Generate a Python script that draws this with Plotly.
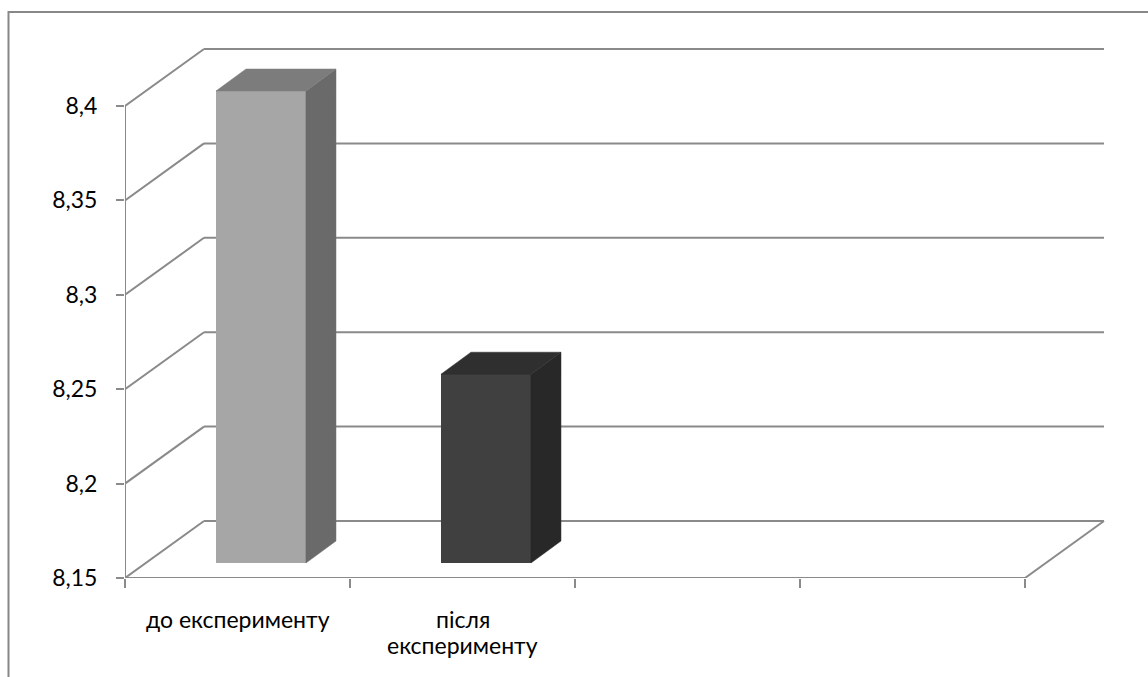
import plotly.graph_objects as go

# ---- data ----
categories = ["до експерименту", "після експерименту"]
category_lines = [["до експерименту"], ["після", "експерименту"]]
values = [8.40, 8.25]
y_ticks = [8.15, 8.20, 8.25, 8.30, 8.35, 8.40]
y_tick_labels = ["8,15", "8,2", "8,25", "8,3", "8,35", "8,4"]
n_slots = 4  # category slots on the axis (two are empty)

# ---- styling / geometry ----
front_colors = ["#A6A6A6", "#404040"]
top_colors = ["#7C7C7C", "#2F2F2F"]
side_colors = ["#6A6A6A", "#282828"]
grid_color = "#8A8A8A"
FONT = "Lato, 'Noto Sans', sans-serif"

W, H = 1148, 677
L, R, T, B = 125, 1105, 47, 578
PX_CAT = 225.0
PX_UNIT = 1888.0
Y0 = y_ticks[0]
x_range = [-0.5, -0.5 + (R - L) / PX_CAT]
y_range = [Y0, Y0 + (B - T) / PX_UNIT]
DXu = 79 / PX_CAT     # depth vector in data units
DYu = 57 / PX_UNIT
F0x, F1x = 0.297, 0.677  # bar depth span (fraction of floor depth), horizontal
F0y, F1y = 0.263, 0.649  # bar depth span, vertical
BAR_W = 0.4

fig = go.Figure()

# walls / floor gridlines (below traces)
shapes = []
line = dict(color=grid_color, width=2)
x_left = -0.5
x_right = -0.5 + n_slots
for t in y_ticks:
    shapes.append(dict(type="line", xref="x", yref="y", layer="below",
                       x0=x_left, y0=t, x1=x_left + DXu, y1=t + DYu, line=line))
    shapes.append(dict(type="line", xref="x", yref="y", layer="below",
                       x0=x_left + DXu, y0=t + DYu, x1=x_right + DXu, y1=t + DYu, line=line))
# front floor edge (category axis line) and right floor edge
shapes.append(dict(type="line", xref="x", yref="y", layer="below",
                   x0=x_left, y0=Y0, x1=x_right, y1=Y0, line=line))
shapes.append(dict(type="line", xref="x", yref="y", layer="below",
                   x0=x_right, y0=Y0, x1=x_right + DXu, y1=Y0 + DYu, line=line))
# value axis line
shapes.append(dict(type="line", xref="x", yref="y", layer="below",
                   x0=x_left, y0=Y0, x1=x_left, y1=y_ticks[-1], line=line))
# chart area border
shapes.append(dict(type="rect", xref="paper", yref="paper", layer="below",
                   x0=(8.5 - L) / (R - L), x1=1.3, y0=-0.4, y1=(B - 12) / (B - T),
                   line=dict(color="#888888", width=2), fillcolor="rgba(0,0,0,0)"))

# bar front faces
xs = [i + F0x * DXu for i in range(len(values))]
fig.add_trace(go.Bar(
    x=xs, y=[v - Y0 for v in values], base=Y0 + F0y * DYu, width=BAR_W,
    marker=dict(color=front_colors, line=dict(width=0)),
    hoverinfo="skip", showlegend=False))

# side and top faces
dDx = (F1x - F0x) * DXu
dDy = (F1y - F0y) * DYu
for i, v in enumerate(values):
    xl = xs[i] - BAR_W / 2
    xr = xs[i] + BAR_W / 2
    b0 = Y0 + F0y * DYu
    v0 = v + F0y * DYu
    fig.add_trace(go.Scatter(
        x=[xr, xr, xr + dDx, xr + dDx, xr], y=[b0, v0, v0 + dDy, b0 + dDy, b0],
        mode="lines", fill="toself", fillcolor=side_colors[i],
        line=dict(color=side_colors[i], width=0.5), hoverinfo="skip", showlegend=False))
    fig.add_trace(go.Scatter(
        x=[xl, xr, xr + dDx, xl + dDx, xl], y=[v0, v0, v0 + dDy, v0 + dDy, v0],
        mode="lines", fill="toself", fillcolor=top_colors[i],
        line=dict(color=top_colors[i], width=0.5), hoverinfo="skip", showlegend=False))

# category labels
annotations = []
for i, lines in enumerate(category_lines):
    for k, txt in enumerate(lines):
        annotations.append(dict(x=i, y=0, xref="x", yref="paper", text=txt,
                                showarrow=False, xanchor="center", yanchor="middle",
                                yshift=-41 - 25.5 * k,
                                font=dict(family=FONT, size=23, color="#000000")))

fig.update_layout(
    width=W, height=H,
    margin=dict(l=L, r=W - R, t=T, b=H - B, pad=0),
    paper_bgcolor="white", plot_bgcolor="white",
    shapes=shapes, annotations=annotations,
    separators=",.",
    bargap=0,
    xaxis=dict(range=x_range, showgrid=False, zeroline=False, showline=False,
               tickmode="array", tickvals=[x_left + k for k in range(n_slots + 1)],
               ticktext=["" for _ in range(n_slots + 1)],
               ticks="outside", ticklen=9, tickwidth=2, tickcolor=grid_color,
               fixedrange=True),
    yaxis=dict(range=y_range, showgrid=False, zeroline=False, showline=False,
               tickmode="array", tickvals=y_ticks, ticktext=y_tick_labels,
               ticks="outside", ticklen=8, tickwidth=2, tickcolor=grid_color,
               ticklabelstandoff=14,
               tickfont=dict(family=FONT, size=23, color="#000000"),
               fixedrange=True),
    font=dict(family=FONT),
)

fig.write_html("out.html", config={"displayModeBar": False})
